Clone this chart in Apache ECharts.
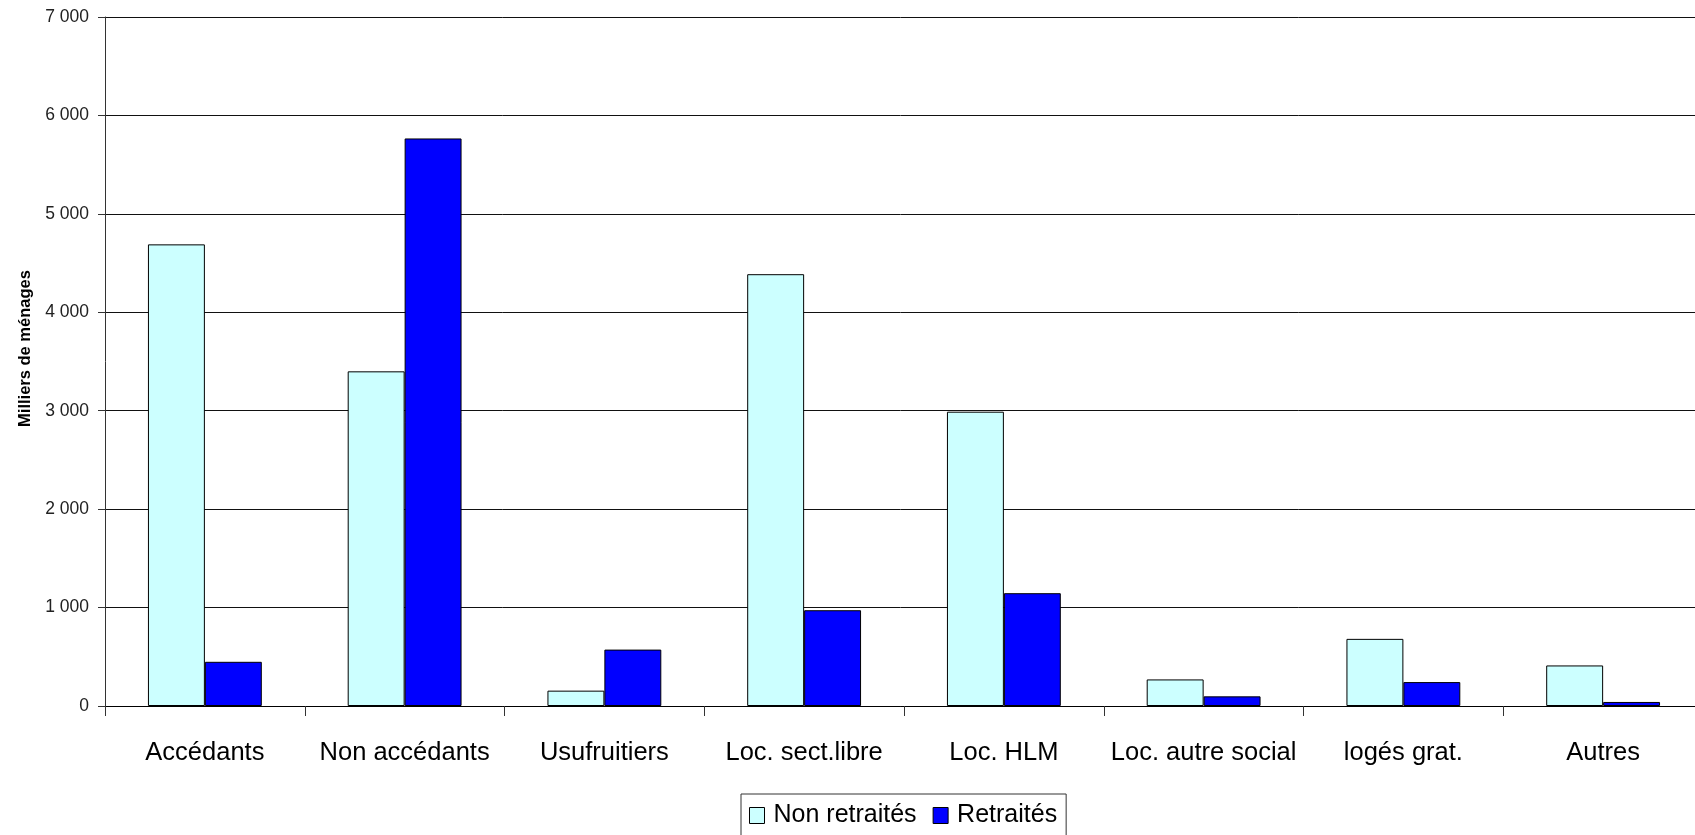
<!DOCTYPE html>
<html>
<head>
<meta charset="utf-8">
<script src="https://cdn.jsdelivr.net/npm/echarts@6/dist/echarts.min.js"></script>
<style>
html,body{margin:0;padding:0;background:#fff;}
#chart{width:1695px;height:835px;}
</style>
</head>
<body>
<div id="chart"></div>
<script>
const categories = ['Accédants', 'Non accédants', 'Usufruitiers', 'Loc. sect.libre', 'Loc. HLM', 'Loc. autre social', 'logés grat.', 'Autres'];
const nonRetraites = [4690, 3400, 156, 4387, 2990, 270, 682, 412];
const retraites = [449, 5766, 573, 973, 1146, 98, 243, 41];
const seriesNames = ['Non retraités', 'Retraités'];
const yTitle = 'Milliers de ménages';

const sans = '"Liberation Sans", Arial, sans-serif';
const fmt = v => String(v).replace(/\B(?=(\d{3})+(?!\d))/g, ' ');

const chart = echarts.init(document.getElementById('chart'));
chart.setOption({
  animation: false,
  backgroundColor: '#fff',
  grid: { left: 105, top: 17, width: 1598, bottom: 129, containLabel: false, outerBoundsMode: 'none' },
  legend: {
    left: 741, top: 794,
    padding: [9, 9, 12, 8],
    itemWidth: 15, itemHeight: 16, itemGap: 16,
    borderColor: '#333', borderWidth: 1,
    icon: 'rect',
    textStyle: { fontFamily: sans, fontSize: 25, color: '#000', padding: [0, 0, 0, 4] },
    data: seriesNames.map(n => ({ name: n, itemStyle: { borderColor: '#000', borderWidth: 1 } }))
  },
  xAxis: {
    type: 'category',
    data: categories,
    axisLine: { lineStyle: { color: '#000', width: 1 } },
    axisTick: { show: true, length: 10, alignWithLabel: false, lineStyle: { color: '#333' } },
    axisLabel: { margin: 34, fontFamily: sans, fontSize: 25.5, color: '#000', interval: 0 },
    splitLine: { show: false }
  },
  yAxis: {
    type: 'value',
    min: 0, max: 7000, interval: 1000,
    name: yTitle,
    nameLocation: 'middle',
    nameGap: 64,
    nameRotate: 90,
    nameTextStyle: { fontFamily: sans, fontWeight: 'bold', fontSize: 16.5, color: '#000', padding: [0, 0, 0, 26] },
    axisLine: { show: true, lineStyle: { color: '#333', width: 1 } },
    axisTick: { show: true, length: 7, lineStyle: { color: '#333' } },
    axisLabel: { margin: 16, fontFamily: sans, fontSize: 17.5, color: '#222', formatter: fmt },
    splitLine: { show: true, lineStyle: { color: '#111', width: 1 } }
  },
  series: [
    {
      name: seriesNames[0], type: 'bar', data: nonRetraites,
      barGap: '0%', barCategoryGap: '43%',
      itemStyle: { color: '#CCFFFF', borderColor: '#000', borderWidth: 1 }
    },
    {
      name: seriesNames[1], type: 'bar', data: retraites,
      barGap: '0%', barCategoryGap: '43%',
      itemStyle: { color: '#0000FF', borderColor: '#000', borderWidth: 1 }
    }
  ]
});
</script>
</body>
</html>
